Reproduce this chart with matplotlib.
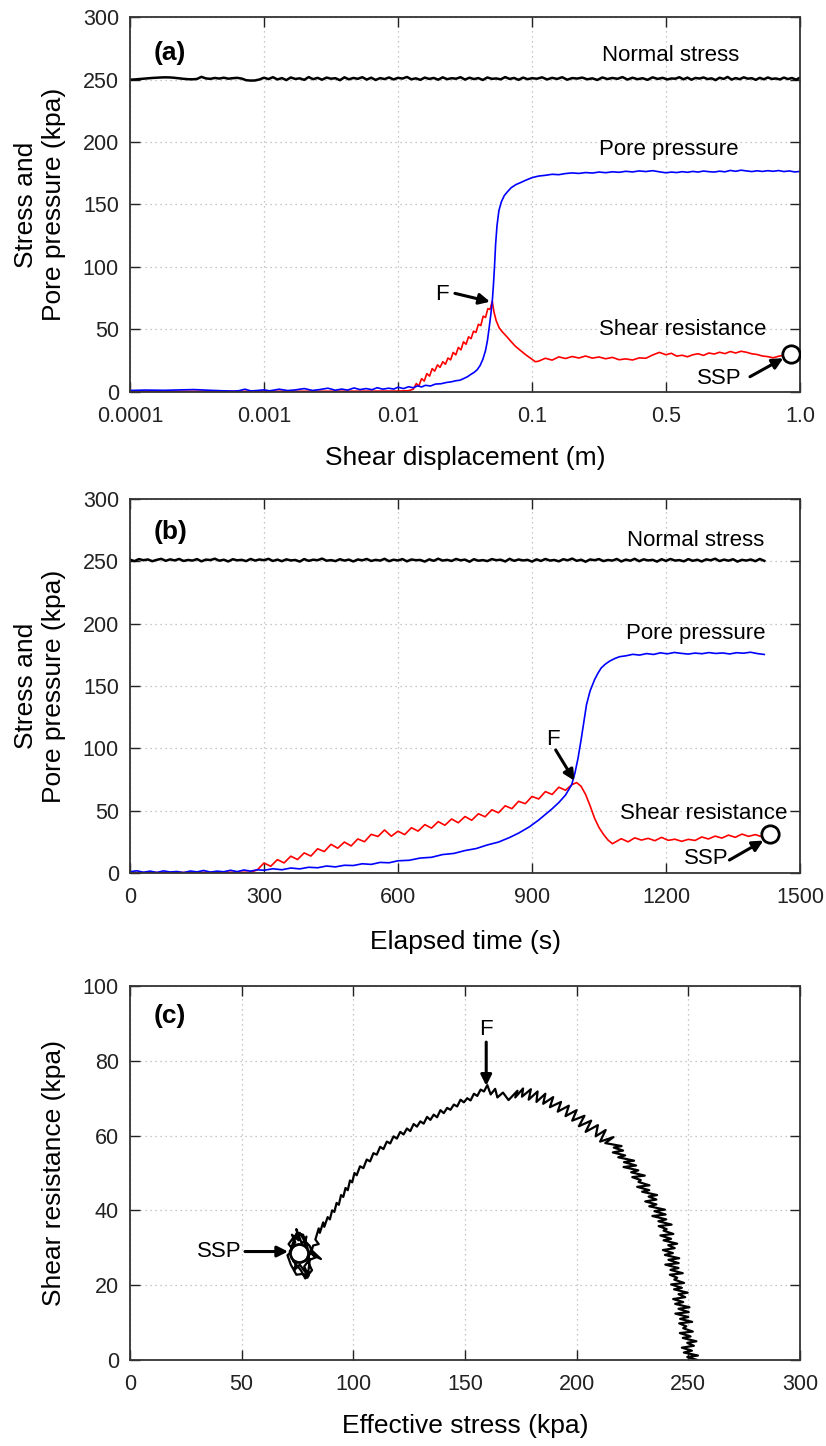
import numpy as np
import matplotlib
matplotlib.use("Agg")
import matplotlib.pyplot as plt

plt.rcParams['font.family'] = ['Liberation Sans', 'DejaVu Sans']

# ---------------- (a) shear displacement ----------------
disp_ticks = [0.0001, 0.001, 0.01, 0.1, 0.5, 1.0]
disp_labels = ["0.0001", "0.001", "0.01", "0.1", "0.5", "1.0"]

disp_ns_a = np.concatenate([np.geomspace(1e-4, 0.1, 91), np.linspace(0.1, 1.0, 61)[1:]])
ns_a = [
    250.0, 250.2, 250.5, 250.8, 251.1, 251.4, 251.6, 251.8, 251.9, 251.8, 251.5, 251.1, 250.7, 250.4, 250.3,
    250.6, 252.3, 251.0, 250.7, 251.4, 250.9, 251.6, 250.8, 251.2, 251.5, 250.9, 249.6, 249.3, 249.4, 250.2,
    251.6, 250.5, 252.0, 250.2, 251.3, 249.7, 251.8, 250.6, 251.1, 249.9, 252.1, 250.4, 251.5, 250.0, 251.7,
    250.8, 251.2, 249.6, 251.9, 250.3, 251.4, 250.7, 252.0, 250.1, 251.6, 249.8, 251.3, 250.5, 251.8, 250.2,
    251.5, 250.9, 252.2, 250.3, 251.1, 249.9, 251.7, 250.6, 251.4, 250.0, 251.9, 250.4, 251.2, 250.8, 252.0,
    250.1, 251.6, 250.5, 251.3, 249.8, 251.8, 250.7, 251.0, 250.3, 252.1, 250.6, 251.4, 249.9, 251.7, 250.4, 251.2,
    250.8, 251.9, 250.2, 251.5, 250.6, 252.0, 250.0, 251.3, 250.9, 251.7,
    250.3, 251.1, 249.8, 251.8, 250.5, 251.4, 250.7, 252.1, 250.1, 251.6,
    250.4, 251.2, 249.9, 251.9, 250.6, 251.5, 250.2, 251.0, 250.8, 252.0,
    250.3, 251.7, 250.0, 251.4, 250.9, 251.8, 250.5, 251.1, 249.7, 251.6,
    250.6, 252.2, 250.1, 251.3, 250.4, 251.9, 250.8, 251.2, 249.9, 251.5,
    250.3, 251.8, 250.6, 251.0, 250.2, 251.7, 250.5, 251.4, 250.0, 251.6,
]

disp_pp_a = [
    0.0001, 0.00013, 0.00018, 0.00025, 0.0003, 0.0004, 0.0005, 0.0006, 0.00065, 0.00072,
    0.0008, 0.0009, 0.001, 0.0011, 0.0013, 0.0015, 0.0017, 0.002, 0.0023, 0.0026,
    0.003, 0.0034, 0.0038, 0.0042, 0.0047, 0.0052, 0.0058, 0.0064, 0.007, 0.0077,
    0.0085, 0.0093, 0.01, 0.011, 0.012, 0.013, 0.014, 0.015, 0.016, 0.0175,
    0.019, 0.021, 0.023, 0.025, 0.027, 0.029, 0.031, 0.033, 0.035, 0.037,
    0.039, 0.041, 0.043, 0.045, 0.0465, 0.048, 0.0493, 0.0505, 0.0515, 0.0525,
    0.0535, 0.0548, 0.0566, 0.059, 0.062, 0.0653, 0.07, 0.076, 0.082, 0.09,
    0.1,
] + list(np.round(np.arange(0.12, 1.001, 0.02), 2))
pp_a = [
    1.0, 1.3, 1.1, 1.5, 1.7, 1.1, 0.7, 0.5, 0.8, 2.0,
    0.6, 1.0, 1.5, 0.7, 2.0, 0.9, 1.4, 2.5, 1.0, 1.7,
    2.8, 1.2, 2.1, 1.3, 3.0, 1.7, 2.5, 1.6, 3.2, 2.0,
    2.8, 2.1, 3.6, 2.5, 4.0, 3.1, 4.7, 3.8, 5.1, 4.6,
    6.1, 6.4, 7.4, 7.9, 8.8, 9.2, 10.6, 12.0, 13.9, 15.5,
    17.6, 21.0, 26.0, 33.0, 41.0, 52.0, 62.0, 72.0, 85.0, 100.0,
    118.0, 133.0, 145.0, 152.0, 157.0, 160.0, 163.5, 166.0, 167.5, 169.5,
    171.5,
    172.8, 173.4, 174.2, 173.9, 174.8, 175.3, 174.9, 175.6, 175.2, 176.0,
    175.5, 176.2, 175.8, 176.6, 176.1, 176.9, 176.4, 177.1, 176.2, 175.4,
    176.0, 175.6, 176.3, 175.8, 176.5, 176.0, 176.8, 176.3, 176.0, 176.7,
    176.2, 177.3, 176.6, 177.5, 176.9, 176.4, 177.0, 176.5, 177.1, 176.6,
    177.2, 176.4, 176.9, 176.1, 176.5,
]

disp_sr_a = [
    0.0001, 0.001, 0.005, 0.01, 0.012, 0.013, 0.0137, 0.0143, 0.015, 0.0157,
    0.0164, 0.0172, 0.018, 0.0188, 0.0197, 0.0206, 0.0216, 0.0226, 0.0236, 0.0247,
    0.0258, 0.027, 0.0282, 0.0295, 0.0308, 0.0322, 0.0336, 0.0351, 0.0366, 0.0382,
    0.0398, 0.0415, 0.0432, 0.045, 0.0468, 0.0487, 0.0505, 0.052, 0.054, 0.057,
    0.06, 0.065, 0.07, 0.075, 0.08, 0.09, 0.1, 0.11,
] + list(np.round(np.arange(0.12, 0.961, 0.02), 2))
sr_a = [
    0.3, 0.3, 0.4, 0.5, 0.8, 2.0, 6.5, 4.5, 10.5, 8.5,
    14.5, 12.5, 18.5, 16.5, 21.5, 19.5, 24.0, 22.0, 27.0, 25.5,
    31.5, 29.5, 35.5, 33.5, 40.0, 38.0, 44.0, 42.5, 48.5, 47.5,
    54.0, 53.0, 60.5, 59.5, 66.5, 66.0, 72.5, 64.0, 57.0, 51.0,
    48.0, 44.0, 40.0, 36.5, 34.0, 29.5, 26.0, 24.0,
    24.5, 26.8, 25.3, 27.9, 26.6, 28.2, 27.0, 28.6, 26.9, 27.8,
    26.4, 27.5, 25.6, 26.3, 25.4, 27.1, 26.8, 29.4, 31.5, 29.6,
    30.8, 28.5, 29.2, 28.0, 29.6, 30.4, 29.1, 31.0, 30.2, 31.6,
    30.5, 32.2, 31.0, 32.4, 31.6, 30.4, 29.8, 28.6, 28.1, 27.2,
    28.4, 29.3, 30.2,
]
ssp_a = (0.967, 30.2)
f_a = (0.0486, 72.1)

# ---------------- (b) elapsed time ----------------
t_ns_b = np.arange(0, 1421, 10)
ns_b = [
    251.3, 250.2, 251.8, 250.9, 251.5, 250.1, 251.2, 252.0, 250.4, 251.6,
    250.7, 251.9, 250.3, 251.1, 250.6, 251.8, 250.0, 251.4, 251.0, 252.1,
    250.5, 251.3, 249.9, 251.7, 250.8, 251.2, 250.2, 251.9, 250.6, 251.5,
    250.9, 252.0, 250.3, 251.4, 250.1, 251.6, 250.7, 251.1, 249.8, 251.8,
    250.4, 251.3, 250.9, 252.2, 250.5, 251.0, 250.2, 251.7, 250.6, 251.4,
    249.9, 251.5, 250.8, 251.9, 250.3, 251.2, 250.6, 252.0, 250.1, 251.3,
    250.7, 251.8, 250.0, 251.5, 250.9, 251.1, 249.8, 251.6, 250.4, 252.1,
    250.6, 251.2, 250.3, 251.9, 250.8, 251.4, 249.7, 251.7, 250.5, 251.0,
    250.2, 251.8, 250.9, 251.3, 249.9, 252.0, 250.4, 251.5, 250.7, 251.2,
    249.8, 251.6, 250.3, 251.9, 250.6, 251.1, 250.0, 251.7, 250.8, 252.2,
    250.4, 251.3, 249.7, 251.5, 250.9, 251.8, 250.2, 251.1, 250.6, 251.9,
    249.9, 251.4, 250.5, 252.0, 250.1, 251.6, 250.7, 251.2, 249.8, 251.7,
    250.3, 251.9, 250.6, 251.0, 250.0, 251.8, 250.4, 251.3, 249.9, 251.6,
    250.8, 252.1, 250.2, 251.4, 250.5, 251.7, 249.8, 251.2, 250.6, 251.5,
    250.1, 251.9, 250.4,
]

t_pp_b = [
    0, 15, 30, 45, 60, 75, 90, 105, 120, 135, 150, 165, 180, 195, 210, 225, 240, 255, 270, 285,
    300, 320, 340, 360, 380, 400, 420, 440, 460, 480, 500, 520, 540, 560, 580, 600,
    625, 650, 675, 700, 725, 750, 775, 800, 825, 850,
    870, 894, 915, 930, 945, 960, 975, 989, 996, 1003, 1010, 1016, 1022, 1030, 1040,
    1048, 1055, 1064, 1074, 1085, 1096,
] + list(np.linspace(1110, 1420, 21))
pp_b = [
    1.0, 1.8, 0.6, 1.5, 0.4, 1.7, 0.8, 1.2, 0.3, 1.6, 0.9, 2.0, 0.7, 1.5, 1.0, 2.2, 1.1, 2.4, 1.5, 2.6,
    2.2, 3.4, 2.6, 4.0, 3.3, 4.6, 4.2, 5.6, 4.9, 6.2, 6.0, 7.4, 6.9, 8.5, 8.2, 9.8,
    10.2, 12.0, 12.6, 14.8, 15.7, 18.0, 19.6, 22.5, 24.8, 28.5,
    32.0, 37.0, 42.5, 47.0, 51.5, 56.5, 62.5, 71.0, 80.0, 92.0, 107.0, 121.0, 135.0, 146.0, 155.0,
    160.5, 164.5, 167.5, 170.0, 172.0, 173.5,
    174.2, 175.4, 174.8, 176.0, 175.3, 176.6, 175.8, 176.9, 176.2, 175.6,
    176.4, 175.9, 176.8, 176.1, 176.5, 175.7, 176.7, 176.3, 177.1, 176.0, 175.3,
]

t_sr_b = [0, 270] + list(range(285, 991, 15)) + [1000, 1010, 1020, 1030, 1040, 1050, 1060, 1070, 1080, 1090] + list(range(1100, 1431, 15))
sr_b = [
    0.3, 0.6,
    2.5, 8.0, 5.4, 10.7, 8.1, 13.5, 10.8, 16.1, 13.6, 19.4,
    17.2, 23.0, 19.9, 24.8, 21.7, 27.3, 25.1, 31.0, 29.3, 34.5,
    29.5, 33.5, 30.8, 36.3, 33.6, 38.8, 36.0, 41.2, 38.3, 43.3,
    40.3, 45.3, 42.3, 47.5, 45.1, 50.7, 48.3, 53.9, 51.6, 57.5,
    55.6, 61.4, 59.4, 65.3, 63.0, 68.8, 66.4, 71.0,
    72.5, 69.5, 63.0, 54.0, 44.0, 36.5, 31.0, 26.5, 23.5, 25.5,
    27.5, 25.0, 28.2, 26.4, 27.8, 25.9, 28.6, 26.2, 27.1, 25.4,
    27.0, 26.1, 28.9, 27.3, 29.6, 28.0, 30.4, 28.6, 31.2, 29.4,
    30.8, 29.0, 31.0,
]
ssp_b = (1432, 31.0)
f_b = (995, 74.0)

# ---------------- (c) stress path: effective stress vs shear resistance ----------------
eff_c = [
    # rising branch (start of test)
    254.0, 249.5, 254.3, 248.0, 251.6, 247.1, 252.5, 249.5, 253.6, 247.5,
    251.0, 246.2, 252.0, 247.7, 249.1, 245.9, 251.7, 246.3, 250.0, 244.2,
    250.2, 245.6, 250.5, 244.1, 247.7, 243.2, 248.6, 245.6, 249.7, 243.6,
    247.1, 242.3, 248.1, 243.7, 245.0, 241.7, 247.5, 242.0, 245.6, 239.7,
    245.7, 241.1, 245.9, 239.5, 243.1, 238.6, 243.9, 241.0, 245.0, 238.9,
    242.3, 237.5, 243.3, 238.9, 240.3, 236.7, 242.5, 236.6, 240.1, 233.9,
    239.8, 234.8, 239.5, 232.5, 235.7, 230.7, 235.7, 232.2, 236.0, 229.3,
    232.5, 227.1, 232.6, 227.7, 228.7, 224.9, 230.5, 224.4, 227.6, 221.0,
    226.6, 221.2, 225.7, 218.6, 221.7, 216.2, 220.8, 216.6, 220.1, 212.8,
    # top, around failure
    216.5, 210.5, 213.0, 208.5, 209.5, 204.0, 206.5, 201.0, 203.5, 198.0,
    200.0, 195.0, 196.5, 191.5, 193.0, 188.0, 189.5, 185.0, 186.0, 182.0,
    182.5, 178.5, 179.5, 175.5, 176.0, 172.5, 173.5, 169.5, 167.0, 164.5,
    163.5, 161.5, 160.0,
    # falling branch towards steady state
    158.5, 157.0, 155.5, 154.0, 152.5, 151.0, 149.5, 148.0, 146.5, 145.0,
    143.5, 142.0, 140.5, 139.0, 137.5, 136.0, 134.5, 133.0, 131.5, 130.0,
    128.5, 127.0, 125.5, 124.0, 122.5, 121.0, 119.5, 118.0, 116.5, 115.0,
    113.5, 112.0, 110.5, 109.0, 107.5, 106.0, 104.5, 103.0, 101.5, 100.5,
    99.5, 98.5, 97.5, 96.5, 95.5, 94.5, 93.5, 92.5, 91.5, 90.5,
    89.5, 88.5, 87.0, 86.5, 85.0, 84.5, 83.0, 84.5, 82.0, 81.0,
    83.5, 80.5, 80.0, 79.5,
    # scatter at steady state point
    78.5, 76.0, 73.5, 75.0, 71.5, 74.0, 72.5, 75.5, 74.5, 77.0,
    79.0, 77.5, 80.5, 78.0, 80.0, 77.0, 74.5, 72.0, 70.5, 73.0,
    71.0, 73.5, 76.0, 78.0, 80.5, 82.0, 85.5, 81.0, 79.5, 81.5,
    78.5, 76.5, 73.0, 75.5, 72.5, 74.5, 77.5, 79.5, 76.5, 78.5,
    75.0, 77.0,
]
shear_c = [
    0.0, 0.8, 1.2, 2.0, 2.5, 3.3, 3.8, 4.6, 5.0, 5.9,
    6.3, 7.2, 7.6, 8.5, 9.0, 9.8, 10.2, 11.0, 11.5, 12.4,
    12.8, 13.7, 14.1, 15.0, 15.5, 16.3, 16.8, 17.6, 18.0, 18.9,
    19.3, 20.2, 20.6, 21.5, 22.0, 22.8, 23.2, 24.1, 24.6, 25.5,
    25.9, 26.8, 27.2, 28.1, 28.6, 29.4, 29.9, 30.7, 31.1, 32.0,
    32.4, 33.3, 33.7, 34.6, 35.0, 35.8, 36.2, 37.1, 37.6, 38.5,
    38.9, 39.8, 40.2, 41.1, 41.6, 42.4, 42.9, 43.7, 44.1, 45.0,
    45.4, 46.3, 46.7, 47.6, 48.1, 48.9, 49.3, 50.2, 50.7, 51.6,
    52.0, 52.9, 53.3, 54.2, 54.7, 55.5, 56.0, 56.8, 57.2, 58.0,
    59.6, 58.4, 61.5, 59.8, 62.8, 61.0, 64.0, 62.5, 65.3, 64.0,
    66.8, 65.2, 68.0, 66.4, 69.0, 67.6, 70.3, 68.5, 71.2, 69.0,
    71.8, 69.6, 72.4, 70.4, 72.6, 70.2, 72.0, 69.5, 71.5, 70.2,
    72.5, 71.0, 73.5,
    71.8, 72.3, 70.6, 71.2, 69.4, 70.0, 68.9, 69.6, 67.8, 68.3,
    66.9, 67.4, 66.0, 66.8, 64.9, 65.6, 64.2, 65.0, 63.2, 63.8,
    62.4, 63.1, 61.2, 61.9, 60.3, 61.0, 59.2, 59.8, 57.9, 58.4,
    56.4, 57.0, 54.9, 55.3, 53.1, 53.6, 51.3, 51.8, 49.4, 50.0,
    47.5, 48.0, 45.4, 46.0, 43.6, 44.1, 41.5, 42.0, 39.6, 40.0,
    37.6, 38.2, 35.6, 36.8, 34.0, 35.2, 32.2, 31.0, 30.6, 28.5,
    27.5, 26.8, 24.5, 22.0,
    23.5, 25.5, 24.0, 27.5, 29.0, 31.5, 33.5, 32.0, 35.0, 31.0,
    33.0, 28.5, 27.0, 25.0, 22.5, 23.0, 22.8, 25.5, 28.0, 29.5,
    31.0, 33.0, 34.0, 32.0, 30.5, 28.0, 27.0, 29.5, 26.5, 24.0,
    21.8, 24.0, 26.5, 29.5, 30.5, 33.8, 33.5, 30.0, 27.0, 28.5,
    30.5, 29.0,
]
ssp_c = (75.5, 28.7)
f_c = (159.5, 73.3)


# piecewise axis used in (a): log up to 0.1, then linear 0.1-0.5 and 0.5-1.0
def fwd(x):
    x = np.asarray(x, dtype=float)
    lx = np.log10(np.clip(x, 1e-12, None))
    return np.where(x <= 0.1, lx + 4, np.where(x <= 0.5, 3 + (x - 0.1) / 0.4, 4 + (x - 0.5) / 0.5))


def inv(u):
    u = np.asarray(u, dtype=float)
    return np.where(u <= 3, 10 ** (np.minimum(u, 3) - 4), np.where(u <= 4, 0.1 + (u - 3) * 0.4, 0.5 + (u - 4) * 0.5))


TICK_FS = 15.5
LABEL_FS = 19
TXT_FS = 16
PANEL_FS = 19
ARROW = dict(arrowstyle='-|>', color='k', lw=2.2, mutation_scale=16, shrinkA=0, shrinkB=0)


def style(ax):
    ax.set_axisbelow(True)
    ax.grid(True, linestyle=(0, (1, 3)), color='#b5b5b5', lw=0.9)
    ax.tick_params(direction='in', length=7, width=1, top=True, right=True,
                   labelsize=TICK_FS, colors='#222222')
    ax.tick_params(axis='x', pad=10)
    ax.tick_params(axis='y', pad=8)
    for s in ax.spines.values():
        s.set_color('#333333')
        s.set_linewidth(1.3)


fig = plt.figure(figsize=(8.26, 14.46), dpi=100)
W, H = 826, 1446
ax_a = fig.add_axes([130 / W, 1 - 391.7 / H, 670 / W, 374.4 / H])
ax_b = fig.add_axes([130 / W, 1 - 873 / H, 670 / W, 374 / H])
ax_c = fig.add_axes([130 / W, 1 - 1360 / H, 670 / W, 374 / H])

# (a)
ax = ax_a
ax.set_xscale('function', functions=(fwd, inv))
ax.plot(disp_sr_a, sr_a, color='#ff0000', lw=1.2)
ax.plot(disp_pp_a, pp_a, color='#0000ff', lw=1.2)
ax.plot(disp_ns_a, ns_a, color='k', lw=1.8)
ax.plot(*ssp_a, 'o', ms=12.5, mfc='white', mec='k', mew=2, zorder=5)
ax.set_xlim(1e-4, 1.0)
ax.set_ylim(0, 300)
ax.set_xticks(disp_ticks)
ax.set_xticklabels(disp_labels)
ax.set_yticks(range(0, 301, 50))
style(ax)
ax.set_xlabel('Shear displacement (m)', fontsize=LABEL_FS, labelpad=14)
ax.set_ylabel('Stress and\nPore pressure (kpa)', fontsize=LABEL_FS, labelpad=12, linespacing=1.2)
ax.text(0.06, 0.905, '(a)', transform=ax.transAxes, fontsize=PANEL_FS, fontweight='bold', ha='center', va='center')
ax.text(0.519, 269, 'Normal stress', fontsize=TXT_FS, ha='center', va='center')
ax.text(0.51, 194, 'Pore pressure', fontsize=TXT_FS, ha='center', va='center')
ax.text(0.563, 49.7, 'Shear resistance', fontsize=TXT_FS, ha='center', va='center')
ax.text(0.0212, 77.5, 'F', fontsize=TXT_FS, ha='center', va='center')
ax.annotate('', xy=f_a, xytext=(0.0266, 78.8), arrowprops=ARROW)
ax.text(0.70, 10.7, 'SSP', fontsize=TXT_FS, ha='center', va='center')
ax.annotate('', xy=(0.9377, 26.8), xytext=(0.8134, 12.0), arrowprops=ARROW)

# (b)
ax = ax_b
ax.plot(t_sr_b, sr_b, color='#ff0000', lw=1.2)
ax.plot(t_pp_b, pp_b, color='#0000ff', lw=1.2)
ax.plot(t_ns_b, ns_b, color='k', lw=1.8)
ax.plot(*ssp_b, 'o', ms=12.5, mfc='white', mec='k', mew=2, zorder=5)
ax.set_xlim(0, 1500)
ax.set_ylim(0, 300)
ax.set_xticks(range(0, 1501, 300))
ax.set_yticks(range(0, 301, 50))
style(ax)
ax.set_xlabel('Elapsed time (s)', fontsize=LABEL_FS, labelpad=16)
ax.set_ylabel('Stress and\nPore pressure (kpa)', fontsize=LABEL_FS, labelpad=12, linespacing=1.2)
ax.text(0.06, 0.913, '(b)', transform=ax.transAxes, fontsize=PANEL_FS, fontweight='bold', ha='center', va='center')
ax.text(1267, 267, 'Normal stress', fontsize=TXT_FS, ha='center', va='center')
ax.text(1267, 192.3, 'Pore pressure', fontsize=TXT_FS, ha='center', va='center')
ax.text(1285, 47.9, 'Shear resistance', fontsize=TXT_FS, ha='center', va='center')
ax.text(947, 106.7, 'F', fontsize=TXT_FS, ha='center', va='center')
ax.annotate('', xy=f_b, xytext=(953, 98.7), arrowprops=ARROW)
ax.text(1290, 11.8, 'SSP', fontsize=TXT_FS, ha='center', va='center')
ax.annotate('', xy=(1418, 26.0), xytext=(1342, 10.4), arrowprops=ARROW)

# (c)
ax = ax_c
ax.plot(eff_c, shear_c, color='k', lw=1.6)
ax.plot(*ssp_c, 'o', ms=13, mfc='white', mec='k', mew=2, zorder=5)
ax.set_xlim(0, 300)
ax.set_ylim(0, 100)
ax.set_xticks(range(0, 301, 50))
ax.set_yticks(range(0, 101, 20))
style(ax)
ax.set_xlabel('Effective stress (kpa)', fontsize=LABEL_FS, labelpad=14)
ax.set_ylabel('Shear resistance (kpa)', fontsize=LABEL_FS, labelpad=12)
ax.text(0.06, 0.92, '(c)', transform=ax.transAxes, fontsize=PANEL_FS, fontweight='bold', ha='center', va='center')
ax.text(159.5, 88.4, 'F', fontsize=TXT_FS, ha='center', va='center')
ax.annotate('', xy=f_c, xytext=(159.5, 85.0), arrowprops=ARROW)
ax.text(40.2, 29.0, 'SSP', fontsize=TXT_FS, ha='center', va='center')
ax.annotate('', xy=(70.8, 29.0), xytext=(51.5, 29.0), arrowprops=ARROW)

fig.savefig('out.png', dpi=100)
